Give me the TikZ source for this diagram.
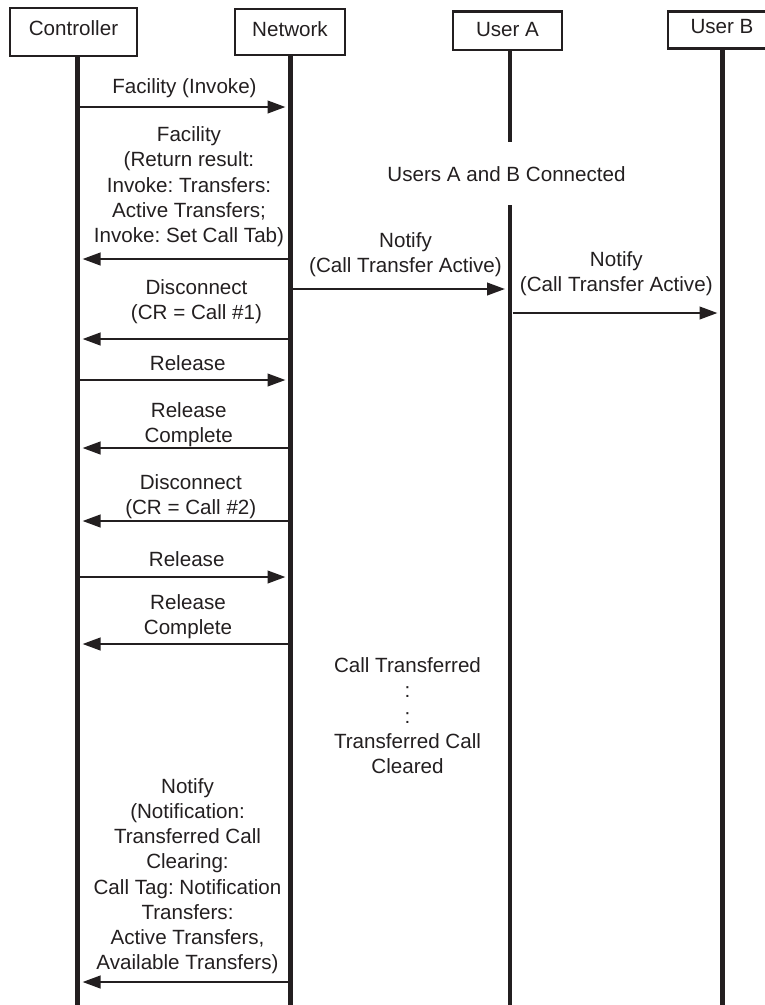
\documentclass[tikz,border=0pt]{standalone}
\usepackage{fontspec}
\setmainfont{Liberation Sans}
\usetikzlibrary{arrows.meta}
\definecolor{ink}{HTML}{231F20}
\frenchspacing
% centred stack of lines whose baseline is that of its first line
\newcommand\msglines[1]{\begin{tabular}[t]{@{}c@{}}#1\end{tabular}}

\begin{document}
\begin{tikzpicture}[x=1pt,y=-1pt,
  every node/.style={font=\fontsize{20.6}{25.2}\selectfont, text=ink, inner sep=0pt},
  actor/.style={draw=ink, line width=2.5pt, inner sep=0pt, minimum width=#1},
  lifeline/.style={draw=ink, line width=4.5pt},
  msg/.style={draw=ink, line width=2.5pt, -{Triangle[length=18pt,width=12.5pt]},
              shorten <=2.5pt, shorten >=5pt},
  lbl/.style={anchor=base}]

\path[use as bounding box] (0,0) rectangle (765,1005);

% participants
\node[actor=127pt, text height=27pt, text depth=21pt] (ctrl) at (73.5,32) {Controller};
\node[actor=110pt, text height=27.7pt, text depth=18.3pt] (net) at (290,32) {Network};
\node[actor=109pt, text height=25pt, text depth=13.3pt] (ua) at (507.5,30.85) {User A};
\begin{scope}
  \clip (0,0) rectangle (765,1005);
  \node[actor=108pt, text height=21.6pt, text depth=15pt] (ub) at (722,30) {User B};
\end{scope}

% lifeline ends
\coordinate (cl) at (77.5,1005);
\coordinate (nl) at (290.5,1005);
\coordinate (al) at (510,1005);
\coordinate (bl) at (722.5,1005);
\coordinate (agap1) at (510,142);
\coordinate (agap2) at (510,205);

\draw[lifeline] (cl |- ctrl.south) -- (cl);
\draw[lifeline] (nl |- net.south) -- (nl);
\draw[lifeline] (al |- ua.south) -- (agap1);
\draw[lifeline] (agap2) -- (al);
\draw[lifeline] (bl |- ub.south) -- (bl);

% message levels
\coordinate (m1) at (0,107);
\coordinate (m2) at (0,259);
\coordinate (m3) at (0,289);
\coordinate (m4) at (0,339);
\coordinate (m5) at (0,313);
\coordinate (m6) at (0,380);
\coordinate (m7) at (0,448);
\coordinate (m8) at (0,521);
\coordinate (m9) at (0,577);
\coordinate (m10) at (0,644);
\coordinate (m11) at (0,982);

\draw[msg] (cl |- m1) -- (nl |- m1);
\draw[msg] (nl |- m2) -- (cl |- m2);
\draw[msg] (nl |- m3) -- (al |- m3);
\draw[msg] (nl |- m4) -- (cl |- m4);
\draw[msg] (al |- m5) -- (bl |- m5);
\draw[msg] (cl |- m6) -- (nl |- m6);
\draw[msg] (nl |- m7) -- (cl |- m7);
\draw[msg] (nl |- m8) -- (cl |- m8);
\draw[msg] (cl |- m9) -- (nl |- m9);
\draw[msg] (nl |- m10) -- (cl |- m10);
\draw[msg] (nl |- m11) -- (cl |- m11);

% labels
\node[lbl] (t1) at (184.5,93.3) {Facility (Invoke)};
\node[lbl] (t2) at (189,141.7) {\msglines{Facility\\(Return result:\\Invoke: Transfers:\\Active Transfers;\\Invoke: Set Call Tab)}};
\node[lbl] (t3) at (405.5,247.5) {\msglines{Notify\\(Call Transfer Active)}};
\node[lbl] (t4) at (196.5,294) {\msglines{Disconnect\\(CR = Call \#1)}};
\node[lbl] (t5) at (616.3,266.7) {\msglines{Notify\\(Call Transfer Active)}};
\node[lbl] (t6) at (187.7,370.7) {Release};
\node[lbl] (t7) at (188.7,417.3) {\msglines{Release\\Complete}};
\node[lbl] (t8) at (190.8,489.3) {\msglines{Disconnect\\(CR = Call \#2)}};
\node[lbl] (t9) at (186.7,566.7) {Release};
\node[lbl] (t10) at (188,609.3) {\msglines{Release\\Complete}};
\node[lbl] (t11) at (187.5,793.3) {\msglines{Notify\\(Notification:\\Transferred Call\\Clearing:\\Call Tag: Notification\\Transfers:\\Active Transfers,\\Available Transfers)}};

% state notes
\node[lbl] (s1) at (506.5,181.7) {Users A and B Connected};
\node[lbl] (s2) at (407.5,672.7) {\msglines{Call Transferred\\:\\:\\Transferred Call\\Cleared}};

\end{tikzpicture}
\end{document}
